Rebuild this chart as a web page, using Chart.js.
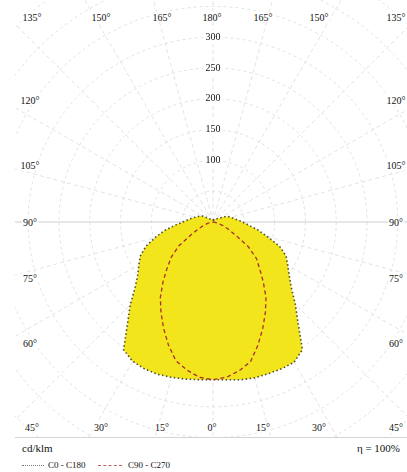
<!DOCTYPE html>
<html>
<head>
<meta charset="utf-8">
<title>LDC</title>
<script src="https://cdn.jsdelivr.net/npm/chart.js@4.4.0/dist/chart.umd.min.js"></script>
<style>
  body { margin: 0; background: #fff; }
  #wrap { position: relative; width: 407px; height: 472px; overflow: hidden;
          font-family: "Liberation Serif", "DejaVu Serif", serif; color: #111; }
  #plot { position: absolute; left: 15px; top: 0; width: 392px; height: 437px;
          overflow: hidden; border-bottom: 1px solid #d4d4d4; }
  #plot canvas { position: absolute; left: -117px; top: -93px; }
  .lbl { position: absolute; font-size: 10px; line-height: 11px; white-space: nowrap;
         transform: translate(-50%, -50%); background: #fff; padding: 0 1px; }
  .leg { position: absolute; white-space: nowrap; line-height: 12px; }
  .sample { position: absolute; height: 0; }
</style>
</head>
<body>
<div id="wrap">
  <div id="plot"><canvas id="ldc" width="630" height="630" style="width:630px;height:630px"></canvas></div>
  <div class="leg" style="left:22px; top:442px; font-size:11px;">cd/klm</div>
  <div class="leg" style="right:7px; top:442px; font-size:11px;">η = 100%</div>
  <div class="sample" style="left:22px; width:22px; top:465px; border-top:1px dotted #777;"></div>
  <div class="leg" style="left:48px; top:459px; font-size:9px;">C0 - C180</div>
  <div class="sample" style="left:98px; width:24px; top:465px; border-top:1px dashed #c06060;"></div>
  <div class="leg" style="left:128px; top:459px; font-size:9px;">C90 - C270</div>
</div>
<script>
// luminous intensity (cd/klm) for gamma = 0..180 deg in 5 deg steps
const gammaSteps = [0, 5, 10, 15, 20, 25, 30, 35, 40, 45, 50, 55, 60, 65, 70, 75, 80, 85, 90,
  95, 100, 105, 110, 115, 120, 125, 130, 135, 140, 145, 150, 155, 160, 165, 170, 175, 180];
const c0   = [256, 257, 260, 262, 262, 263, 263, 253, 215, 189, 166, 151, 140, 131, 115, 91, 74, 58, 48,
  40, 34, 30, 26, 20, 13, 10, 8, 7, 6, 5, 5, 4, 4, 3, 3, 3, 3];
const c180 = [256, 257, 259, 261, 263, 263, 261, 253, 216, 190, 165, 149, 139, 130, 116, 97, 80, 62, 49,
  41, 35, 30, 26, 23, 19, 12, 9, 7, 6, 5, 5, 4, 4, 3, 3, 3, 3];
const c90  = [256, 253, 245, 235, 213, 191, 170, 150, 127, 107, 92, 70, 42, 27, 17, 10, 5, 2, 0,
  0, 0, 0, 0, 0, 0, 0, 0, 0, 0, 0, 0, 0, 0, 0, 0, 0, 0];
const c270 = [256, 253, 244, 233, 212, 190, 169, 149, 126, 105, 88, 68, 40, 26, 16, 9, 5, 2, 0,
  0, 0, 0, 0, 0, 0, 0, 0, 0, 0, 0, 0, 0, 0, 0, 0, 0, 0];
const ringTicks = [100, 150, 200, 250, 300];
const topLabels = ['135°', '150°', '165°', '180°', '165°', '150°', '135°'];
const sideLabels = ['120°', '105°', '90°', '75°', '60°'];
const bottomLabels = ['45°', '30°', '15°', '0°', '15°', '30°', '45°'];

// frame label placement
const topX = [32, 101, 162, 212, 263, 319, 396];
const sideY = [100, 165, 222, 278, 343];
const wrap = document.getElementById('wrap');
function addLabel(text, x, y) {
    const d = document.createElement('div');
    d.className = 'lbl';
    d.textContent = text;
    d.style.left = x + 'px';
    d.style.top = y + 'px';
    wrap.appendChild(d);
}
topLabels.forEach((t, i) => addLabel(t, topX[i], 17));
bottomLabels.forEach((t, i) => addLabel(t, topX[i], 427));
sideLabels.forEach((t, i) => { addLabel(t, 30, sideY[i]); addLabel(t, 396, sideY[i]); });

// go clockwise from the top: right half is C0 / C90, left half is C180 / C270
const labels = [], planeA = [], planeB = [];
for (let i = 0; i < 72; i++) {
    if (i <= 36) {
        const k = 36 - i;
        labels.push(gammaSteps[k]);
        planeA.push(c0[k]);
        planeB.push(c90[k]);
    } else {
        const k = i - 36;
        labels.push(gammaSteps[k]);
        planeA.push(c180[k]);
        planeB.push(c270[k]);
    }
}

const serif = "'Liberation Serif', 'DejaVu Serif', serif";

new Chart(document.getElementById('ldc'), {
    type: 'radar',
    data: {
        labels: labels,
        datasets: [
            {
                label: 'C90 - C270',
                data: planeB,
                order: 0,
                fill: false,
                borderColor: '#a8302c',
                borderWidth: 1.3,
                borderDash: [4, 3],
                pointRadius: 0,
                tension: 0
            },
            {
                label: 'C0 - C180',
                data: planeA,
                order: 1,
                fill: 'origin',
                backgroundColor: '#f3e51c',
                borderColor: '#4d4b38',
                borderWidth: 1.6,
                borderDash: [1.5, 2.5],
                pointRadius: 0,
                tension: 0
            }
        ]
    },
    options: {
        responsive: false,
        animation: false,
        layout: { padding: 0 },
        plugins: {
            legend: { display: false },
            tooltip: { enabled: false }
        },
        scales: {
            r: {
                min: 0,
                max: 500,
                startAngle: 0,
                ticks: {
                    stepSize: 50,
                    color: '#111',
                    font: { family: serif, size: 10 },
                    callback: v => ringTicks.includes(v) ? String(v) : '',
                    showLabelBackdrop: ctx => ringTicks.includes(ctx.tick.value),
                    backdropColor: '#fff',
                    backdropPadding: 2
                },
                grid: { circular: true, color: '#e1e1e1', lineWidth: 1 },
                border: { dash: [3, 3] },
                angleLines: {
                    color: ctx => (ctx.index === 18 || ctx.index === 54) ? '#cfcfcf' : '#e3e3e3',
                    lineWidth: ctx => ctx.index % 3 === 0 ? 1 : 0,
                    borderDash: ctx => (ctx.index === 18 || ctx.index === 54) ? [] : [4, 3]
                },
                pointLabels: { display: false }
            }
        }
    }
});
</script>
</body>
</html>
